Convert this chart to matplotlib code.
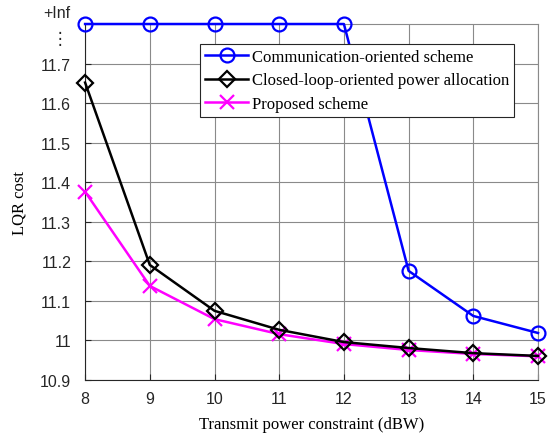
import numpy as np
import matplotlib
matplotlib.use("Agg")
import matplotlib.pyplot as plt
import matplotlib.transforms as mtransforms

# Data
power_dbw = [8, 9, 10, 11, 12, 13, 14, 15]
INF_LEVEL = 11.8  # "+Inf" drawn at the top of the axis
comm_oriented = [INF_LEVEL, INF_LEVEL, INF_LEVEL, INF_LEVEL, INF_LEVEL, 11.176, 11.062, 11.019]
closed_loop = [11.652, 11.191, 11.075, 11.027, 10.996, 10.981, 10.968, 10.961]
proposed = [11.376, 11.138, 11.054, 11.016, 10.991, 10.976, 10.966, 10.960]
y_ticks = [10.9, 11.0, 11.1, 11.2, 11.3, 11.4, 11.5, 11.6, 11.7]
y_tick_labels = ['10.9', '11', '11.1', '11.2', '11.3', '11.4', '11.5', '11.6', '11.7']

serif = ['Liberation Serif', 'DejaVu Serif']
sans = ['Liberation Sans', 'DejaVu Sans']

fig = plt.figure(figsize=(5.49, 4.35), dpi=100)
ax = fig.add_axes([0.155, 0.124, 0.825, 0.8185])

ax.plot(power_dbw, comm_oriented, color='#0000ff', lw=1.8, marker='o', ms=10,
        mfc='none', mew=1.6, label='Communication-oriented scheme', clip_on=False, zorder=3)
ax.plot(power_dbw, proposed, color='#ff00ff', lw=1.8, marker='x', ms=10,
        mew=1.6, label='Proposed scheme', clip_on=False, zorder=4)
ax.plot(power_dbw, closed_loop, color='black', lw=1.8, marker='D', ms=8.5,
        mfc='none', mew=1.6, label='Closed-loop-oriented power allocation', clip_on=False, zorder=5)

ax.set_xlim(8, 15)
ax.set_ylim(10.9, INF_LEVEL)
ax.set_xticks(power_dbw)
ax.set_yticks(y_ticks)
ax.set_yticklabels(y_tick_labels)
for lbl in ax.get_xticklabels() + ax.get_yticklabels():
    lbl.set_family(sans)
    lbl.set_fontsize(11.5)
    lbl.set_color('#262626')

# extra labels above 11.7
trans = mtransforms.blended_transform_factory(ax.transAxes, ax.transData)
ax.text(-0.038, 11.765, '\u22ee', transform=trans, ha='right', va='center',
        fontsize=12, family=['DejaVu Sans'], color='#262626')
ax.text(-0.033, 11.829, '+Inf', transform=trans, ha='right', va='center',
        fontsize=11.5, family=sans, color='#262626')

ax.grid(True, color='#8a8a8a', lw=0.8)
ax.set_axisbelow(True)
ax.tick_params(direction='in', length=4, width=0.8, color='#262626')
ax.tick_params(axis='y', pad=10)
ax.tick_params(axis='x', pad=8)
for side in ['top', 'right']:
    ax.spines[side].set_color('#8a8a8a')
for side in ['left', 'bottom']:
    ax.spines[side].set_color('#262626')

ax.set_xlabel('Transmit power constraint (dBW)', family=serif, fontsize=12, labelpad=7)
ax.set_ylabel('LQR cost', family=serif, fontsize=12, labelpad=9)

handles, labels = ax.get_legend_handles_labels()
order = [0, 2, 1]
leg = ax.legend([handles[i] for i in order], [labels[i] for i in order],
                loc='upper right', bbox_to_anchor=(0.947, 0.944),
                prop={'family': serif, 'size': 12}, frameon=True, fancybox=False,
                edgecolor='#262626', framealpha=1, handlelength=2.6,
                handletextpad=0.2, borderpad=0.3, labelspacing=0.45, borderaxespad=0)
leg.get_frame().set_linewidth(0.8)

fig.savefig('out.png', dpi=100)
